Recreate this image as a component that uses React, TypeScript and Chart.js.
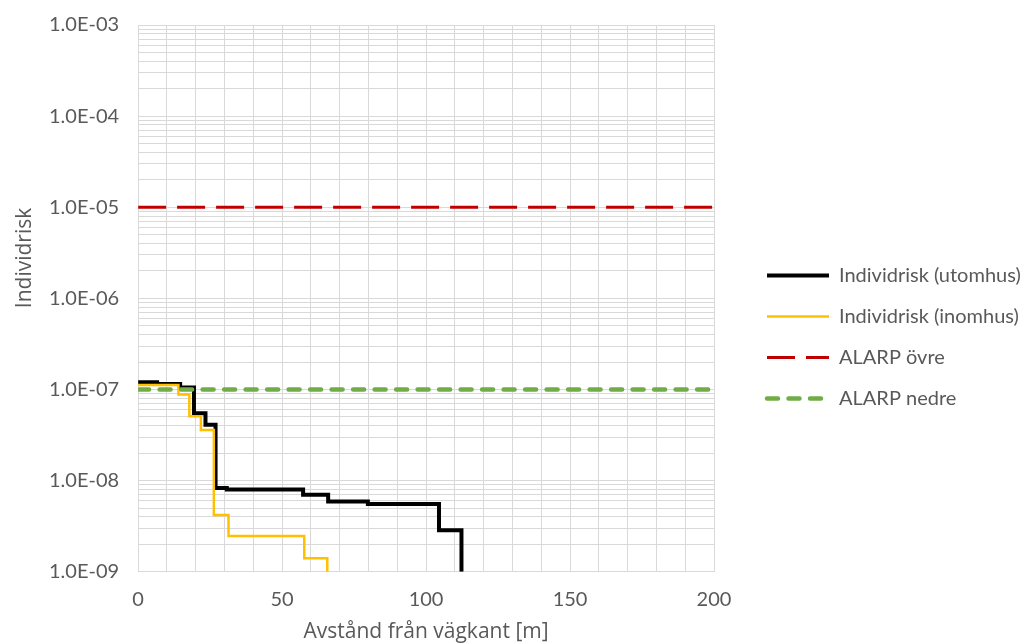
import { useEffect, useRef } from 'react';
import { Chart, registerables } from 'chart.js';

Chart.register(...registerables);

// Distance from road edge [m] where each step starts, and risk value holding from there
const utomhusX = [0, 6.6, 14.6, 19.4, 23.4, 26.9, 30.8, 57.3, 66, 79.8, 104.5, 112.3];
const utomhusY = [1.2e-7, 1.15e-7, 1.05e-7, 5.5e-8, 4.1e-8, 8.3e-9, 8.0e-9, 7.0e-9, 5.9e-9, 5.55e-9, 2.85e-9, 1e-9];

const inomhusX = [0, 14, 17.8, 21.8, 26.3, 31.4, 57.7, 65.7];
const inomhusY = [1.12e-7, 8.8e-8, 5.1e-8, 3.6e-8, 4.2e-9, 2.47e-9, 1.41e-9, 1e-9];

const alarpOvre = 1e-5;
const alarpNedre = 1e-7;
const xRange = [0, 200];

const xTickLabels = ['0', '50', '100', '150', '200'];
const yDecades = [1e-9, 1e-8, 1e-7, 1e-6, 1e-5, 1e-4, 1e-3];
const yTickLabels = ['1.0E-09', '1.0E-08', '1.0E-07', '1.0E-06', '1.0E-05', '1.0E-04', '1.0E-03'];

const seriesNames = ['Individrisk (utomhus)', 'Individrisk (inomhus)', 'ALARP övre', 'ALARP nedre'];
const xTitle = 'Avstånd från vägkant [m]';
const yTitle = 'Individrisk';

const textColor = '#595959';
const gridColor = '#D9D9D9';
const fontFamily = 'Lato, "Open Sans", sans-serif';
const titleFamily = '"Open Sans", Lato, sans-serif';

const toPoints = (xs: number[], ys: number[]) => xs.map((x, i) => ({ x, y: ys[i] }));

// y title sits a bit above the middle of the axis, like the original
const yTitlePlugin = {
  id: 'yTitle',
  afterDraw(chart: Chart) {
    const { ctx, chartArea } = chart;
    ctx.save();
    ctx.fillStyle = textColor;
    ctx.font = `21px ${titleFamily}`;
    ctx.textAlign = 'center';
    ctx.textBaseline = 'middle';
    ctx.translate(25, chartArea.top + (chartArea.bottom - chartArea.top) * 0.426);
    ctx.rotate(-Math.PI / 2);
    ctx.fillText(yTitle, 0, 0);
    ctx.restore();
  },
};

export default function App() {
  const canvasRef = useRef<HTMLCanvasElement | null>(null);

  useEffect(() => {
    document.body.style.margin = '0';
    if (!canvasRef.current) return;

    const chart = new Chart(canvasRef.current, {
      type: 'line',
      data: {
        datasets: [
          {
            label: seriesNames[0],
            data: toPoints(utomhusX, utomhusY),
            borderColor: '#000000',
            backgroundColor: '#000000',
            borderWidth: 4,
            stepped: 'before',
            pointRadius: 0,
            order: 3,
          },
          {
            label: seriesNames[1],
            data: toPoints(inomhusX, inomhusY),
            borderColor: '#FFC000',
            backgroundColor: '#FFC000',
            borderWidth: 2.5,
            stepped: 'before',
            pointRadius: 0,
            order: 2,
          },
          {
            label: seriesNames[2],
            data: toPoints(xRange, [alarpOvre, alarpOvre]),
            borderColor: '#C00000',
            backgroundColor: '#C00000',
            borderWidth: 3,
            borderDash: [28, 11],
            pointRadius: 0,
            order: 1,
          },
          {
            label: seriesNames[3],
            data: toPoints(xRange, [alarpNedre, alarpNedre]),
            borderColor: '#70AD47',
            backgroundColor: '#70AD47',
            borderWidth: 4.5,
            borderDash: [11, 10.5],
            borderCapStyle: 'round',
            pointRadius: 0,
            order: 0,
          },
        ],
      },
      options: {
        animation: false,
        responsive: false,
        events: [],
        layout: { padding: { top: 25, left: 30, right: 0, bottom: 0 } },
        plugins: {
          tooltip: { enabled: false },
          legend: {
            position: 'right',
            maxWidth: 277,
            title: { display: true, text: ' ', padding: 2, font: { size: 1, family: fontFamily } },
            labels: {
              usePointStyle: true,
              pointStyle: 'line',
              pointStyleWidth: 62,
              padding: 21,
              color: textColor,
              font: { size: 20, family: fontFamily },
              sort: (a, b) => (a.datasetIndex ?? 0) - (b.datasetIndex ?? 0),
              generateLabels: (c) => {
                const items = Chart.defaults.plugins.legend.labels.generateLabels(c);
                items.forEach((it) => {
                  const ds: any = c.data.datasets[it.datasetIndex ?? 0];
                  it.lineDash = ds.borderDash || [];
                  it.lineCap = ds.borderCapStyle || 'butt';
                });
                return items;
              },
            },
          },
        },
        scales: {
          x: {
            type: 'linear',
            min: xRange[0],
            max: xRange[1],
            grid: { color: gridColor, drawTicks: false },
            border: { color: gridColor },
            ticks: {
              stepSize: 10,
              autoSkip: false,
              maxRotation: 0,
              padding: 16,
              color: textColor,
              font: { size: 20, family: fontFamily },
              callback: (v) => {
                const i = xTickLabels.indexOf(String(v));
                return i >= 0 ? xTickLabels[i] : '';
              },
            },
            title: {
              display: true,
              text: xTitle,
              color: textColor,
              font: { size: 21, family: titleFamily },
              padding: { top: -8, bottom: -1 },
            },
          },
          y: {
            type: 'logarithmic',
            min: yDecades[0],
            max: yDecades[yDecades.length - 1],
            grid: { color: gridColor, drawTicks: false },
            border: { color: gridColor },
            afterBuildTicks: (scale) => {
              const ticks: { value: number }[] = [];
              yDecades.forEach((d, i) => {
                if (i === yDecades.length - 1) {
                  ticks.push({ value: d });
                  return;
                }
                for (let m = 1; m <= 9; m++) ticks.push({ value: m * d });
              });
              scale.ticks = ticks;
            },
            afterFit: (scale) => {
              scale.paddingTop = 0;
              scale.paddingBottom = 0;
            },
            ticks: {
              autoSkip: false,
              padding: 19,
              color: textColor,
              font: { size: 20, family: fontFamily },
              callback: (v) => {
                const i = yDecades.findIndex((d) => Math.abs(Number(v) / d - 1) < 1e-6);
                return i >= 0 ? yTickLabels[i] : '';
              },
            },
          },
          // empty spacer between plot and legend
          gap: {
            type: 'linear',
            position: 'right',
            grid: { display: false },
            border: { display: false },
            ticks: { display: false },
            afterFit: (scale) => {
              scale.width = 32;
            },
          },
        },
      },
      plugins: [yTitlePlugin],
    });

    return () => {
      chart.destroy();
    };
  }, []);

  return (
    <div style={{ width: 1023, height: 644, background: '#ffffff' }}>
      <canvas ref={canvasRef} width={1023} height={644}></canvas>
    </div>
  );
}
